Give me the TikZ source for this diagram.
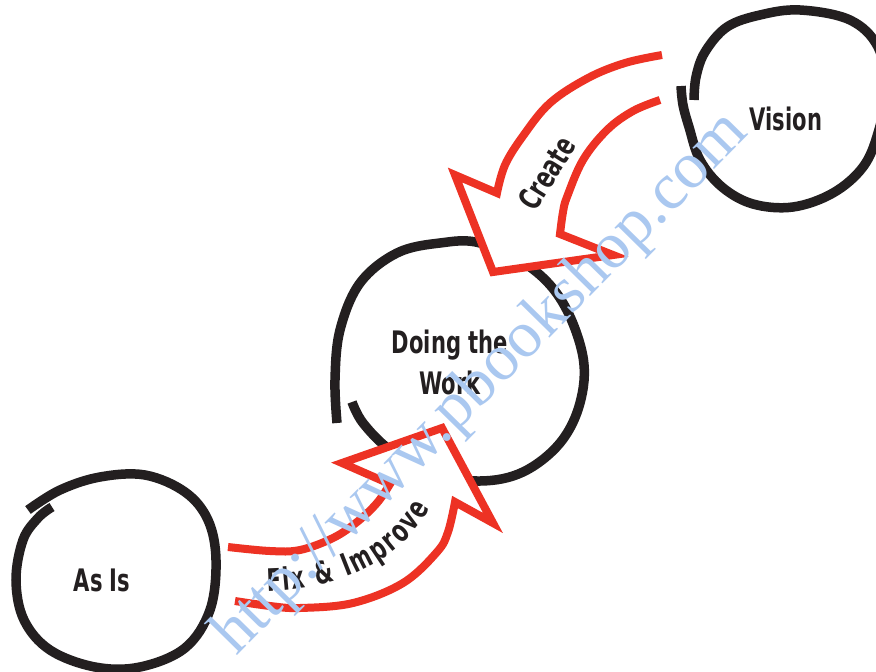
\documentclass[tikz,border=0pt]{standalone}
\usepackage{fontspec}
\newfontfamily\hand{DejaVu Sans}[FakeStretch=0.68]
\newfontfamily\wmfont{Liberation Serif}
\usetikzlibrary{decorations.text}
\definecolor{ink}{RGB}{35,31,32}
\definecolor{arrowred}{RGB}{237,50,36}
\definecolor{wmblue}{RGB}{170,200,240}
\newcommand\handtext{\hand\bfseries\fontsize{31}{41}\selectfont}
\begin{document}
\begin{tikzpicture}[x=1pt,y=-1pt,
  ring/.style={draw=ink, line width=9.5pt, line cap=butt},
  bigarrow/.style={fill=white, draw=arrowred, line width=8pt, line join=miter, miter limit=10},
  lbl/.style={font=\handtext, text=ink, inner sep=0pt, align=center}]
\useasboundingbox (0,0) rectangle (876,672);
\clip (0,0) rectangle (876,672);
\fill[white] (0,0) rectangle (876,672);
% circles
\draw[ring] plot[smooth, tension=0.6] coordinates {(28,510) (60,490) (100,477) (145,475) (185,492) (208,520) (216,560) (210,610) (185,648) (140,667) (95,667) (50,650) (24,620) (16,580) (23,540) (38,518) (52,507)};
\draw[ring] plot[smooth, tension=0.6] coordinates {(337,423) (335,380) (340,330) (360,283) (397,253) (440,243) (480,243) (530,267) (563,303) (583,357) (580,403) (560,443) (523,472) (480,481) (430,473) (390,450) (363,423) (352,402)};
\draw[ring] plot[smooth, tension=0.6] coordinates {(681,86) (683,105) (689,127) (700,160) (722,187) (753,204) (793,207) (833,193) (863,167) (878,133) (886,90) (878,47) (850,20) (800,10) (760,15) (727,27) (705,52) (696,77) (694,100)};
% arrows
\path[bigarrow] plot[smooth, tension=0.6] coordinates {(662,55) (625,63) (588,78) (550,103) (523,136) (505,165) (497,193)}
  -- (455,175) -- (493,272) -- (613,255) -- (560,234)
  -- plot[smooth, tension=0.6] coordinates {(560,234) (563,212) (567,197) (583,160) (607,130) (633,111) (660,100)};
\path[bigarrow] plot[smooth, tension=0.6] coordinates {(228,547) (270,551) (300,550) (333,538) (357,522) (377,503) (390,484)}
  -- (342,463) -- (442,428) -- (493,523) -- (455,502)
  -- plot[smooth, tension=0.6] coordinates {(455,502) (448,532) (437,552) (403,583) (353,603) (300,608) (270,606) (235,601)};
% labels
\node[lbl] (asis) at (102,580) {As Is};
\node[lbl] (work) at (450,362) {Doing the\\Work};
\node[lbl] (vision) at (786,119) {Vision};
\node[lbl, rotate=58] (create) at (547,173) {Create};
\path[decorate, decoration={text along path, text align=fit to path,
  text={|\handtext\color{ink}|Fix {\&} Improve}}]
  (267,591) .. controls (332,590) and (398,566) .. (430,508);
% watermark
\node[font=\wmfont\fontsize{66}{66}\selectfont, text=wmblue, rotate=45.5, anchor=base west, inner sep=0pt] (wm) at (236,657) {http://www.pbookshop.com};
\end{tikzpicture}
\end{document}
